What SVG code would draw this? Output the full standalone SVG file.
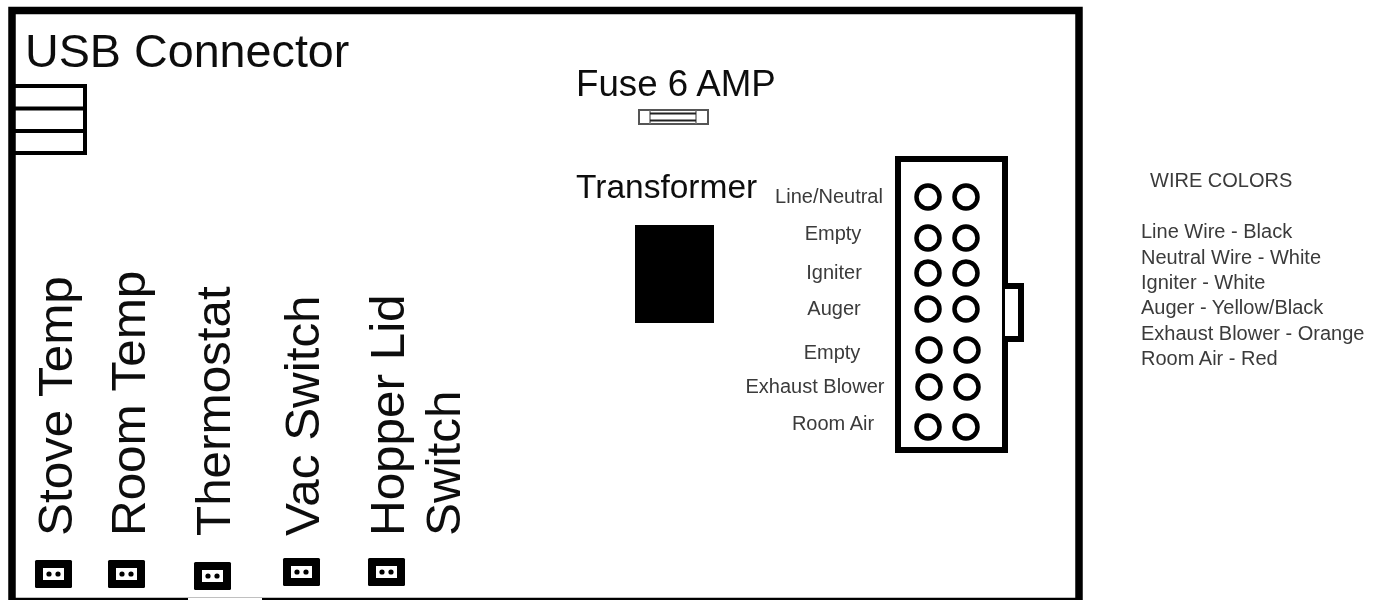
<svg xmlns="http://www.w3.org/2000/svg" width="1375" height="600" viewBox="0 0 1375 600">
<style>
text{font-family:"Liberation Sans",Arial,sans-serif;fill:#111}
.big{font-size:46.700px}
.vert{font-size:47.500px}
.sm{font-size:20px;fill:#3a3a3a;text-anchor:middle}
.wire{font-size:20px;fill:#3a3a3a}
.hole{fill:#fff;stroke:#000;stroke-width:4.500}
.plug{fill:#000}
.win{fill:#fff}
.pin{fill:#000}
</style>
<defs>
<filter id="soft" filterUnits="userSpaceOnUse" x="0" y="0" width="1375" height="600"><feGaussianBlur stdDeviation="0.600"/></filter>
<g id="plugshape">
<rect class="plug" x="0" y="0" width="37" height="28" rx="1.500"/>
<rect class="win" x="8" y="8" width="21" height="12"/>
<circle class="pin" cx="14" cy="14" r="2.600"/><circle class="pin" cx="23" cy="14" r="2.600"/>
</g>
</defs>
<rect width="1375" height="600" fill="#fff"/>
<g filter="url(#soft)">
<g id="board"><rect x="12" y="10.500" width="1067" height="591" fill="none" stroke="#000" stroke-width="7.500"/><rect x="188" y="598" width="74" height="2" fill="#fff"/></g>
<g id="usb">
<text class="big" x="25" y="67">USB Connector</text>
<path d="M15 86H85V153H15M15 108.500H85M15 131H85" fill="none" stroke="#000" stroke-width="4"/>
</g>
<g id="fuse">
<text x="576" y="96" font-size="36.700">Fuse 6 AMP</text>
<rect x="639" y="110" width="69" height="14" fill="#fff" stroke="#555" stroke-width="2"/>
<path d="M650 110.500V124M696 110.500V124" stroke="#777" stroke-width="1.500"/>
<path d="M650 113.500H696M650 120.500H696" stroke="#222" stroke-width="2"/>
</g>
<g id="transformer">
<text x="576" y="198" font-size="33.500">Transformer</text>
<rect x="635" y="225" width="79" height="98" fill="#000"/>
</g>
<g id="terminal">
<rect x="898" y="159" width="107" height="291" fill="#fff" stroke="#000" stroke-width="6"/>
<path d="M1005 286H1021V339H1005" fill="#fff" stroke="#000" stroke-width="6"/>
<circle class="hole" cx="928" cy="197" r="11.500"/><circle class="hole" cx="966" cy="197" r="11.500"/>
<circle class="hole" cx="928" cy="238" r="11.500"/><circle class="hole" cx="966" cy="238" r="11.500"/>
<circle class="hole" cx="928" cy="273" r="11.500"/><circle class="hole" cx="966" cy="273" r="11.500"/>
<circle class="hole" cx="928" cy="309" r="11.500"/><circle class="hole" cx="966" cy="309" r="11.500"/>
<circle class="hole" cx="929" cy="350" r="11.500"/><circle class="hole" cx="967" cy="350" r="11.500"/>
<circle class="hole" cx="929" cy="387" r="11.500"/><circle class="hole" cx="967" cy="387" r="11.500"/>
<circle class="hole" cx="928" cy="427" r="11.500"/><circle class="hole" cx="966" cy="427" r="11.500"/>
<text class="sm" x="829" y="203">Line/Neutral</text>
<text class="sm" x="833" y="240">Empty</text>
<text class="sm" x="834" y="279">Igniter</text>
<text class="sm" x="834" y="315">Auger</text>
<text class="sm" x="832" y="359">Empty</text>
<text class="sm" x="815" y="393">Exhaust Blower</text>
<text class="sm" x="833" y="430">Room Air</text>
</g>
<g id="stove-temp"><text class="vert" transform="translate(72 536) rotate(-90) scale(1.040 1)">Stove Temp</text><use href="#plugshape" x="35" y="560"/></g>
<g id="room-temp"><text class="vert" transform="translate(144.500 536) rotate(-90) scale(1.040 1)">Room Temp</text><use href="#plugshape" x="108" y="560"/></g>
<g id="thermostat"><text class="vert" transform="translate(229.500 536) rotate(-90) scale(1.040 1)">Thermostat</text><use href="#plugshape" x="194" y="562"/></g>
<g id="vac-switch"><text class="vert" transform="translate(319 536) rotate(-90) scale(1.040 1)">Vac Switch</text><use href="#plugshape" x="283" y="558"/></g>
<g id="hopper-lid-switch"><text class="vert" transform="translate(404 536) rotate(-90) scale(1.040 1)">Hopper Lid</text><text class="vert" transform="translate(460 536) rotate(-90) scale(1.040 1)">Switch</text><use href="#plugshape" x="368" y="558"/></g>
<g id="connectors"></g>
<g id="wire-colors">
<text class="wire" x="1150" y="187">WIRE COLORS</text>
<text class="wire" x="1141" y="238">Line Wire - Black</text>
<text class="wire" x="1141" y="264">Neutral Wire - White</text>
<text class="wire" x="1141" y="289">Igniter - White</text>
<text class="wire" x="1141" y="314">Auger - Yellow/Black</text>
<text class="wire" x="1141" y="340">Exhaust Blower - Orange</text>
<text class="wire" x="1141" y="365">Room Air - Red</text>
</g>
</g>
</svg>
